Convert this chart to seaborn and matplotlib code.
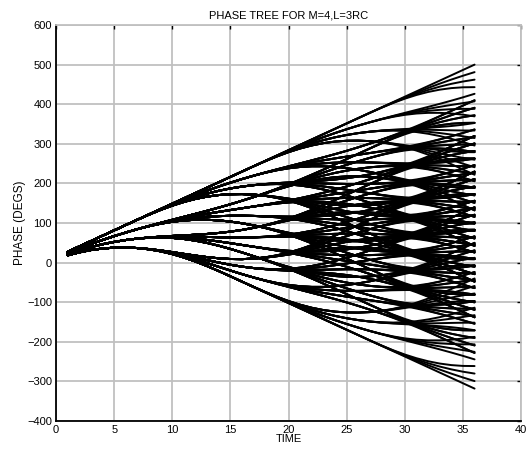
import itertools
import numpy as np
import pandas as pd
import matplotlib
matplotlib.use("Agg")
import matplotlib.pyplot as plt
import seaborn as sns

# ---- data / model parameters ----
symbols = [-3, -1, 1, 3]          # M = 4 alphabet
h = 0.25                          # modulation index
L = 3                             # pulse length (3RC)
samples_per_symbol = 10
n_symbols = 4                     # symbols whose pulses start in the window
first_symbol_time = -4.3          # start of first free symbol
prior_symbol = 3                  # symbols before the tree
start_phase_deg = 27.5            # phase of all-prior path at t = 1
time = np.arange(1, 37)
x_ticks = list(range(0, 41, 5))
y_ticks = list(range(-400, 601, 100))
title = "PHASE TREE FOR M=4,L=3RC"
x_label = "TIME"
y_label = "PHASE (DEGS)"

LT = L * samples_per_symbol


def q_rc(tau):
    tau = np.asarray(tau, dtype=float)
    out = tau / (2 * LT) - np.sin(2 * np.pi * tau / LT) / (4 * np.pi)
    out = np.where(tau < 0, 0.0, out)
    out = np.where(tau > LT, 0.5, out)
    return out


slope = 360 * h * prior_symbol / (2 * samples_per_symbol)
base = start_phase_deg + slope * (time - 1)
sym_times = [first_symbol_time + k * samples_per_symbol for k in range(n_symbols)]

rows = []
for pid, seq in enumerate(itertools.product(symbols, repeat=n_symbols)):
    ph = base.copy()
    for a, tk in zip(seq, sym_times):
        ph = ph + 360 * h * (a - prior_symbol) * q_rc(time - tk)
    rows.append(pd.DataFrame({"time": time, "phase": ph, "path": pid}))
df = pd.concat(rows, ignore_index=True)

# ---- drawing ----
sns.set_theme(style="whitegrid")
plt.rcParams["font.family"] = ["Liberation Sans", "DejaVu Sans"]
plt.rcParams["text.color"] = "black"
plt.rcParams["axes.labelcolor"] = "black"

fig = plt.figure(figsize=(5.29, 4.5), dpi=100)
ax = fig.add_axes([0.106, 0.0644, 0.879, 0.8800])
ax.set_facecolor("white")

sns.lineplot(data=df, x="time", y="phase", units="path", estimator=None,
             color="black", linewidth=1.4, ax=ax, legend=False, sort=False)

ax.set_xlim(0, 40)
ax.set_ylim(-400, 600)
ax.set_xticks(x_ticks)
ax.set_yticks(y_ticks)
ax.grid(True, color="#c0c0c0", linewidth=1.3)
for s in ["left", "bottom"]:
    ax.spines[s].set_color("black")
    ax.spines[s].set_linewidth(1.3)
for s in ["top", "right"]:
    ax.spines[s].set_color("#c0c0c0")
    ax.spines[s].set_linewidth(1.3)
ax.tick_params(direction="in", length=3, width=1, colors="black",
               top=True, right=True, labelsize=8, pad=3)
ax.set_title(title, fontsize=8, pad=5, color="black")
ax.set_xlabel(x_label, fontsize=8, labelpad=-1, color="black")
ax.set_ylabel(y_label, fontsize=8.5, labelpad=1, color="black")

fig.savefig("out.png", dpi=100)
